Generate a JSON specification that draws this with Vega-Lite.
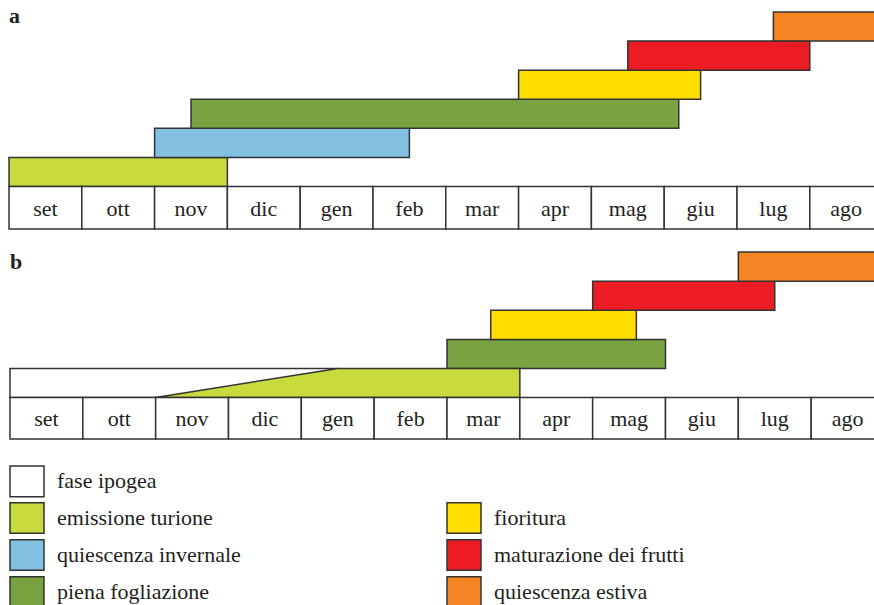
{
  "$schema": "https://vega.github.io/schema/vega-lite/v6.json",
  "width": 874,
  "height": 605,
  "autosize": {"type": "fit", "contains": "padding"},
  "padding": 0,
  "background": "white",
  "config": {
    "view": {"stroke": null},
    "font": "Liberation Serif"
  },
  "datasets": {
    "mesi": [
      {"mese": "set"}, {"mese": "ott"}, {"mese": "nov"}, {"mese": "dic"},
      {"mese": "gen"}, {"mese": "feb"}, {"mese": "mar"}, {"mese": "apr"},
      {"mese": "mag"}, {"mese": "giu"}, {"mese": "lug"}, {"mese": "ago"}
    ],
    "fasi_a": [
      {"fase": "emissione turione", "inizio": 0, "fine": 3},
      {"fase": "quiescenza invernale", "inizio": 2, "fine": 5.5},
      {"fase": "piena fogliazione", "inizio": 2.5, "fine": 9.2},
      {"fase": "fioritura", "inizio": 7, "fine": 9.5},
      {"fase": "maturazione dei frutti", "inizio": 8.5, "fine": 11},
      {"fase": "quiescenza estiva", "inizio": 10.5, "fine": 12}
    ],
    "fasi_b": [
      {"fase": "piena fogliazione", "inizio": 6, "fine": 9},
      {"fase": "fioritura", "inizio": 6.6, "fine": 8.6},
      {"fase": "maturazione dei frutti", "inizio": 8, "fine": 10.5},
      {"fase": "quiescenza estiva", "inizio": 10, "fine": 12}
    ],
    "emergenza_b": [
      {"fase": "fase ipogea", "mese": 0, "quota": 1},
      {"fase": "fase ipogea", "mese": 4.5, "quota": 1},
      {"fase": "emissione turione", "mese": 2, "quota": 0},
      {"fase": "emissione turione", "mese": 4.5, "quota": 1},
      {"fase": "emissione turione", "mese": 7, "quota": 1}
    ]
  },
  "layer": [
    {
      "data": {"name": "fasi_a"},
      "layer": [
        {
          "mark": {"type": "rect", "stroke": "#333333", "strokeWidth": 1.5, "clip": true},
          "encoding": {
            "x": {"field": "inizio", "type": "quantitative", "scale": {"domain": [0, 12], "range": [9, 882.6]}, "axis": null},
            "x2": {"field": "fine"},
            "y": {"field": "fase", "type": "nominal", "scale": {"domain": ["quiescenza estiva", "maturazione dei frutti", "fioritura", "piena fogliazione", "quiescenza invernale", "emissione turione"], "range": [12, 186.5], "paddingInner": 0, "paddingOuter": 0}, "axis": null},
            "color": {
              "field": "fase",
              "type": "nominal",
              "scale": {
                "domain": ["fase ipogea", "emissione turione", "quiescenza invernale", "piena fogliazione", " ", "fioritura", "maturazione dei frutti", "quiescenza estiva"],
                "range": ["#ffffff", "#c9da3f", "#81c0e0", "#78a340", "#ffffff", "#ffdd00", "#ec1c24", "#f48422"]
              },
              "legend": {
                "orient": "none",
                "legendX": 9,
                "legendY": 463,
                "columns": 2,
                "title": null,
                "padding": 0,
                "symbolType": "M-1,-0.9H1V0.9H-1Z",
                "symbolSize": 1156,
                "symbolStrokeColor": "#333333",
                "symbolStrokeWidth": 1.5,
                "symbolOpacity": 1,
                "labelFont": "Liberation Serif",
                "labelFontSize": 22,
                "labelColor": "#231f20",
                "labelOffset": 12,
                "labelLimit": 400,
                "rowPadding": -2,
                "columnPadding": 203,
                "gridAlign": "each",
                "encode": {"symbols": {"update": {"strokeOpacity": {"signal": "datum.value === ' ' ? 0 : 1"}}}}
              }
            }
          }
        },
        {
          "data": {"values": [{"pannello": "a"}]},
          "mark": {"type": "text", "fontSize": 22, "fontWeight": "bold", "font": "Liberation Serif", "align": "left", "baseline": "alphabetic", "dy": -3.5, "color": "#231f20"},
          "encoding": {
            "x": {"datum": 0, "type": "quantitative"},
            "y": {"datum": "quiescenza estiva", "type": "nominal"},
            "text": {"field": "pannello"}
          }
        }
      ]
    },
    {
      "data": {"name": "mesi"},
      "encoding": {
        "x": {"field": "mese", "type": "nominal", "sort": null, "scale": {"domain": ["set", "ott", "nov", "dic", "gen", "feb", "mar", "apr", "mag", "giu", "lug", "ago"], "range": [9, 882.6], "paddingInner": 0, "paddingOuter": 0}, "axis": null},
        "y": {"datum": "a", "type": "nominal", "scale": {"range": [186.5, 229], "paddingInner": 0, "paddingOuter": 0}, "axis": null}
      },
      "layer": [
        {"mark": {"type": "rect", "fill": "white", "stroke": "#333333", "strokeWidth": 1.5, "clip": true}},
        {"mark": {"type": "text", "fontSize": 22, "font": "Liberation Serif", "color": "#231f20", "baseline": "middle", "dy": 1}, "encoding": {"text": {"field": "mese"}}}
      ]
    },
    {
      "data": {"name": "fasi_b"},
      "layer": [
        {
          "mark": {"type": "rect", "stroke": "#333333", "strokeWidth": 1.5, "clip": true},
          "encoding": {
            "x": {"field": "inizio", "type": "quantitative", "scale": {"domain": [0, 12], "range": [10, 884]}, "axis": null},
            "x2": {"field": "fine"},
            "y": {"field": "fase", "type": "nominal", "scale": {"domain": ["quiescenza estiva", "maturazione dei frutti", "fioritura", "piena fogliazione"], "range": [252, 368.5], "paddingInner": 0, "paddingOuter": 0}, "axis": null},
            "color": {"field": "fase", "type": "nominal"}
          }
        },
        {
          "data": {"values": [{"pannello": "b"}]},
          "mark": {"type": "text", "fontSize": 22, "fontWeight": "bold", "font": "Liberation Serif", "align": "left", "baseline": "alphabetic", "dy": 2.5, "color": "#231f20"},
          "encoding": {
            "x": {"datum": 0, "type": "quantitative"},
            "y": {"datum": "quiescenza estiva", "type": "nominal"},
            "text": {"field": "pannello"}
          }
        }
      ]
    },
    {
      "data": {"name": "emergenza_b"},
      "encoding": {
        "x": {"field": "mese", "type": "quantitative", "scale": {"domain": [0, 12], "range": [10, 884]}, "axis": null},
        "y": {"field": "quota", "type": "quantitative", "stack": null, "scale": {"domain": [0, 1], "range": [397.5, 368.5]}, "axis": null},
        "color": {"field": "fase", "type": "nominal"}
      },
      "layer": [
        {"transform": [{"filter": "datum.fase === 'fase ipogea'"}], "mark": {"type": "area", "stroke": "#333333", "strokeWidth": 1.5, "opacity": 1}},
        {"transform": [{"filter": "datum.fase === 'emissione turione'"}], "mark": {"type": "area", "stroke": "#333333", "strokeWidth": 1.5, "opacity": 1}}
      ]
    },
    {
      "data": {"name": "mesi"},
      "encoding": {
        "x": {"field": "mese", "type": "nominal", "sort": null, "scale": {"domain": ["set", "ott", "nov", "dic", "gen", "feb", "mar", "apr", "mag", "giu", "lug", "ago"], "range": [10, 884], "paddingInner": 0, "paddingOuter": 0}, "axis": null},
        "y": {"datum": "b", "type": "nominal", "scale": {"range": [397.5, 439], "paddingInner": 0, "paddingOuter": 0}, "axis": null}
      },
      "layer": [
        {"mark": {"type": "rect", "fill": "white", "stroke": "#333333", "strokeWidth": 1.5, "clip": true}},
        {"mark": {"type": "text", "fontSize": 22, "font": "Liberation Serif", "color": "#231f20", "baseline": "middle", "dy": 1}, "encoding": {"text": {"field": "mese"}}}
      ]
    }
  ],
  "resolve": {"scale": {"x": "independent", "y": "independent"}}
}
